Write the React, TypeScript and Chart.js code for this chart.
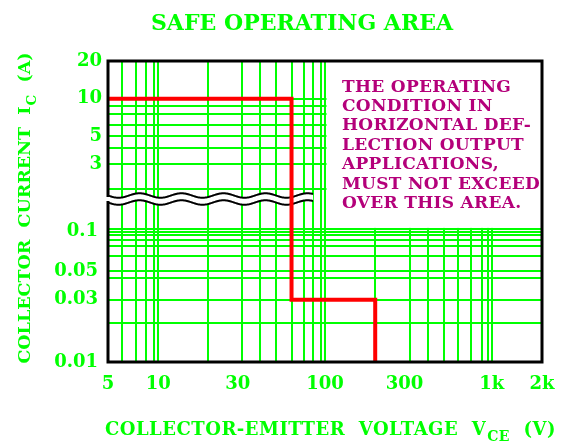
import React, { useEffect, useRef } from "react";
import { Chart, registerables } from "chart.js";

Chart.register(...registerables);

const GREEN = "#00ff00";
const RED = "#ff0000";
const MAGENTA = "#b4007a";
const FONT = "'DejaVu Serif', serif";

// X axis: collector-emitter voltage (V)
const xMin = 5;
const xMax = 2000;
const xLabelValues = [5, 10, 30, 100, 300, 1000, 2000];
const xLabelTexts = ["5", "10", "30", "100", "300", "1k", "2k"];
const xGridValues = [6.1, 7.4, 8.5, 9.4, 10, 20, 32, 41, 51, 63, 75, 85, 94, 100, 200, 325, 415, 520, 630, 750, 870, 955, 1000];

// Upper part of the broken Y axis (A)
const yHighMin = 1.576;
const yHighMax = 20;
const yHighLabelValues = [20, 10, 5, 3];
const yHighGridValues = [10, 8.7, 7.6, 6.2, 5, 4, 3, 1.9];

// Lower part of the broken Y axis (A)
const yLowMin = 0.01;
const yLowMax = 0.178;
const yLowLabelValues = [0.1, 0.05, 0.03, 0.01];
const yLowGridValues = [0.104, 0.1, 0.094, 0.086, 0.078, 0.065, 0.05, 0.044, 0.03, 0.02];

// Safe operating area boundary
const soaVoltage = [5, 63, 63, 200, 200];
const soaCurrent = [10, 10, 0.03, 0.03, 0.01];

const titleText = "SAFE OPERATING AREA";
const xTitleMain = "COLLECTOR-EMITTER  VOLTAGE  V";
const xTitleSub = "CE";
const xTitleEnd = "  (V)";
const yTitleMain = "COLLECTOR  CURRENT  I";
const yTitleSub = "C";
const yTitleEnd = "  (A)";
const noteLines = [
  "THE OPERATING",
  "CONDITION IN",
  "HORIZONTAL DEF-",
  "LECTION OUTPUT",
  "APPLICATIONS,",
  "MUST NOT EXCEED",
  "OVER THIS AREA.",
];
const notePanelLeftValue = 100; // V
const notePanelBottomValue = 0.104; // A
const breakEndValue = 85; // V

function makeTicks(grid: number[], labels: number[]) {
  const all = Array.from(new Set([...grid, ...labels])).sort((a, b) => a - b);
  return all.map((v) => ({ value: v }));
}

export default function App() {
  const ref = useRef<HTMLCanvasElement>(null);

  useEffect(() => {
    const canvas = ref.current;
    if (!canvas) return;
    const points = soaVoltage.map((v, i) => ({ x: v, y: soaCurrent[i] }));
    const tickFont = { family: FONT, size: 18, weight: "bold" as const };

    const decor = {
      id: "soaDecor",
      beforeDatasetsDraw(chart: any) {
        const { ctx, chartArea: ca, scales } = chart;
        const xs = scales.x;
        const yh = scales.yHigh;
        const yl = scales.yLow;
        ctx.save();
        // white note panel
        const px = xs.getPixelForValue(notePanelLeftValue) + 1.5;
        const pb = yl.getPixelForValue(notePanelBottomValue) - 1.5;
        ctx.fillStyle = "#ffffff";
        ctx.fillRect(px, ca.top, ca.right - px, pb - ca.top);
        // axis break
        const y0 = yh.bottom;
        const x0 = ca.left;
        const x1 = xs.getPixelForValue(breakEndValue);
        const GAP = 3.5;
        const AMP = 2.2;
        const PER = 42;
        const wave = (x: number, off: number) =>
          y0 + off + AMP * Math.sin((2 * Math.PI * (x - x0)) / PER);
        ctx.beginPath();
        for (let x = x0; x <= x1; x += 1) ctx.lineTo(x, wave(x, -GAP));
        for (let x = x1; x >= x0; x -= 1) ctx.lineTo(x, wave(x, GAP));
        ctx.closePath();
        ctx.fill();
        ctx.strokeStyle = "#000000";
        ctx.lineWidth = 2;
        for (const off of [-GAP, GAP]) {
          ctx.beginPath();
          for (let x = x0; x <= x1; x += 1) ctx.lineTo(x, wave(x, off));
          ctx.stroke();
        }
        ctx.restore();
      },
      afterDatasetsDraw(chart: any) {
        const { ctx, chartArea: ca, scales } = chart;
        const xs = scales.x;
        const yh = scales.yHigh;
        const y0 = yh.bottom;
        const GAP = 3.5;
        ctx.save();
        // frame
        ctx.strokeStyle = "#000000";
        ctx.lineWidth = 3;
        ctx.lineJoin = "miter";
        ctx.lineCap = "square";
        ctx.beginPath();
        ctx.moveTo(ca.left, y0 - GAP);
        ctx.lineTo(ca.left, ca.top);
        ctx.lineTo(ca.right, ca.top);
        ctx.lineTo(ca.right, ca.bottom);
        ctx.lineTo(ca.left, ca.bottom);
        ctx.lineTo(ca.left, y0 + GAP);
        ctx.stroke();

        // note text
        ctx.fillStyle = MAGENTA;
        ctx.font = `bold 17px ${FONT}`;
        ctx.textAlign = "left";
        ctx.textBaseline = "alphabetic";
        (ctx as any).letterSpacing = "0.3px";
        const nx = xs.getPixelForValue(notePanelLeftValue) + 17;
        noteLines.forEach((line, i) => {
          ctx.fillText(line, nx, ca.top + 30.5 + i * 19.45);
        });
        (ctx as any).letterSpacing = "0px";

        // main title
        ctx.fillStyle = GREEN;
        ctx.font = `bold 22px ${FONT}`;
        ctx.textAlign = "center";
        ctx.fillText(titleText, 302, 30);

        // x axis title with subscript
        const big = `bold 18px ${FONT}`;
        const small = `bold 14px ${FONT}`;
        ctx.textAlign = "left";
        (ctx as any).letterSpacing = "0.5px";
        ctx.font = big;
        const w1 = ctx.measureText(xTitleMain).width;
        const w3 = ctx.measureText(xTitleEnd).width;
        ctx.font = small;
        const w2 = ctx.measureText(xTitleSub).width;
        const xc = (ca.left + ca.right) / 2 + 5;
        let sx = xc - (w1 + w2 + w3) / 2;
        const by = 435;
        ctx.font = big;
        ctx.fillText(xTitleMain, sx, by);
        ctx.font = small;
        ctx.fillText(xTitleSub, sx + w1 + 1, by + 6);
        ctx.font = big;
        ctx.fillText(xTitleEnd, sx + w1 + w2 + 1, by);
        (ctx as any).letterSpacing = "0px";

        // y axis title with subscript (rotated)
        const bigY = `bold 17.5px ${FONT}`;
        const smallY = `bold 13.5px ${FONT}`;
        ctx.translate(30, (ca.top + ca.bottom) / 2 - 3);
        ctx.rotate(-Math.PI / 2);
        ctx.font = bigY;
        const v1 = ctx.measureText(yTitleMain).width;
        const v3 = ctx.measureText(yTitleEnd).width;
        ctx.font = smallY;
        const v2 = ctx.measureText(yTitleSub).width;
        sx = -(v1 + v2 + v3) / 2;
        ctx.font = bigY;
        ctx.fillText(yTitleMain, sx, 0);
        ctx.font = smallY;
        ctx.fillText(yTitleSub, sx + v1 + 1, 6);
        ctx.font = bigY;
        ctx.fillText(yTitleEnd, sx + v1 + v2 + 1, 0);
        ctx.restore();
      },
    };

    const gridColor = (values: number[]) => (c: any) =>
      c.tick && values.includes(c.tick.value) ? GREEN : "rgba(0,0,0,0)";

    const chart = new Chart(canvas, {
      type: "line",
      data: {
        datasets: [
          {
            data: points,
            xAxisID: "x",
            yAxisID: "yHigh",
            borderColor: RED,
            borderWidth: 4,
            pointRadius: 0,
            fill: false,
            tension: 0,
            borderJoinStyle: "miter",
          },
          {
            data: points,
            xAxisID: "x",
            yAxisID: "yLow",
            borderColor: RED,
            borderWidth: 4,
            pointRadius: 0,
            fill: false,
            tension: 0,
            borderJoinStyle: "miter",
          },
        ],
      },
      options: {
        responsive: false,
        animation: false,
        events: [],
        layout: { padding: { left: 0, right: 31, top: 61, bottom: 0 } },
        plugins: {
          legend: { display: false },
          tooltip: { enabled: false },
          title: { display: false },
        },
        scales: {
          x: {
            type: "logarithmic",
            min: xMin,
            max: xMax,
            afterBuildTicks: (s: any) => {
              s.ticks = makeTicks(xGridValues, xLabelValues);
            },
            afterFit: (s: any) => {
              s.height = 84;
            },
            grid: { color: gridColor(xGridValues), lineWidth: 2, drawTicks: false },
            border: { display: false },
            ticks: {
              autoSkip: false,
              maxRotation: 0,
              padding: 12,
              color: GREEN,
              font: tickFont,
              callback: (v: any) => {
                const i = xLabelValues.indexOf(Number(v));
                return i >= 0 ? xLabelTexts[i] : "";
              },
            },
          },
          yLow: {
            type: "logarithmic",
            position: "left",
            stack: "current",
            stackWeight: 163,
            weight: 0,
            min: yLowMin,
            max: yLowMax,
            afterBuildTicks: (s: any) => {
              s.ticks = makeTicks(yLowGridValues, yLowLabelValues);
            },
            afterFit: (s: any) => {
              s.width = 108;
            },
            grid: { color: gridColor(yLowGridValues), lineWidth: 2, drawTicks: false },
            border: { display: false },
            ticks: {
              autoSkip: false,
              padding: 10,
              color: GREEN,
              font: tickFont,
              callback: (v: any) =>
                yLowLabelValues.includes(Number(v)) ? String(v) : "",
            },
          },
          yHigh: {
            type: "logarithmic",
            position: "left",
            stack: "current",
            stackWeight: 138,
            weight: 1,
            min: yHighMin,
            max: yHighMax,
            afterBuildTicks: (s: any) => {
              s.ticks = makeTicks(yHighGridValues, yHighLabelValues);
            },
            afterFit: (s: any) => {
              s.width = 108;
            },
            grid: { color: gridColor(yHighGridValues), lineWidth: 2, drawTicks: false },
            border: { display: false },
            ticks: {
              autoSkip: false,
              padding: 6,
              color: GREEN,
              font: tickFont,
              callback: (v: any) =>
                yHighLabelValues.includes(Number(v)) ? String(v) : "",
            },
          },
        },
      },
      plugins: [decor],
    } as any);

    return () => chart.destroy();
  }, []);

  return (
    <div style={{ position: "absolute", left: 0, top: 0, width: 573, height: 446, background: "#ffffff" }}>
      <canvas ref={ref} width={573} height={446} style={{ display: "block" }} />
    </div>
  );
}
